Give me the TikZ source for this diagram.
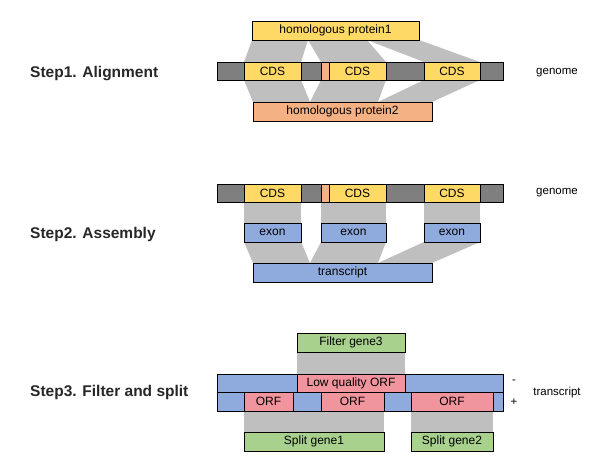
\documentclass[tikz,border=0pt]{standalone}
\usepackage{fontspec}
\setmainfont{Liberation Sans}
\usetikzlibrary{calc}
\definecolor{cdsyellow}{HTML}{FFD966}
\definecolor{protorange}{HTML}{F4B183}
\definecolor{introngrey}{HTML}{7F7F7F}
\definecolor{bandgrey}{HTML}{BFBFBF}
\definecolor{exonblue}{HTML}{8FAADC}
\definecolor{orfpink}{HTML}{F0949D}
\definecolor{genegreen}{HTML}{A9D18E}
\pgfdeclarelayer{bands}
\pgfsetlayers{bands,main}

\begin{document}
\begin{tikzpicture}[x=1pt,y=-1pt,
    box/.style={draw=black,line width=0.7pt,inner sep=0pt,outer sep=0pt,anchor=north west,
      font=\fontsize{12}{12}\selectfont},
    steplabel/.style={anchor=west,inner sep=0pt,text=black!85,
      font=\fontsize{15.5}{16}\selectfont\bfseries},
    sidelabel/.style={inner sep=0pt,font=\fontsize{11.5}{12}\selectfont},
    band/.style={fill=bandgrey}]
    \useasboundingbox (0,0) rectangle (598,470);

    % step titles
    \node[steplabel] (step1) at (30,74) {Step1. Alignment};
    \node[steplabel] (step2) at (30,234) {Step2. Assembly};
    \node[steplabel] (step3) at (30,392) {Step3. Filter and split};

    % genome bars (step 1 and step 2)
    \foreach \r/\y in {a/62,b/184} {
      \node[box,fill=introngrey,minimum width=286,minimum height=18] (genome\r) at (217,\y) {};
      \foreach \n/\xa/\xb/\c/\t in {cds1/244/301/cdsyellow/CDS,ins/321/329/protorange/{},
          cds2/329/386/cdsyellow/CDS,cds3/424/480/cdsyellow/CDS}
        \node[box,fill=\c,minimum width=\xb-\xa,minimum height=18] (\n\r) at (\xa,\y) {\t};
    }
    \node[sidelabel] (glaba) at (557,73) {genome};
    \node[sidelabel] (glabb) at (557,193) {genome};

    % step 1
    \node[box,fill=cdsyellow,minimum width=167,minimum height=19] (p1) at (252,21) {homologous protein1};
    \node[box,fill=protorange,minimum width=179,minimum height=19] (p2) at (253,102) {homologous protein2};
    \coordinate (p1m1) at ($(p1.south west)+(56,0)$);
    \coordinate (p1m2) at ($(p1.south west)+(115,0)$);
    \coordinate (p2m1) at ($(p2.north west)+(57,0)$);
    \coordinate (p2m2) at ($(p2.north west)+(125,0)$);

    % step 2
    \node[box,fill=exonblue,minimum width=57,minimum height=19] (e1) at (244,223) {exon};
    \node[box,fill=exonblue,minimum width=65,minimum height=19] (e2) at (321,223) {exon};
    \node[box,fill=exonblue,minimum width=56,minimum height=19] (e3) at (424,223) {exon};
    \node[box,fill=exonblue,minimum width=179,minimum height=19] (tr) at (253,263) {transcript};
    \coordinate (trm1) at ($(tr.north west)+(57,0)$);
    \coordinate (trm2) at ($(tr.north west)+(125,0)$);

    % step 3
    \node[box,fill=genegreen,minimum width=108,minimum height=19] (fg3) at (297,333) {Filter gene3};
    \node[box,fill=exonblue,minimum width=286,minimum height=18] (minusrow) at (217,374) {};
    \node[box,fill=orfpink,minimum width=108,minimum height=18] (lq) at (297,374) {Low quality ORF};
    \node[box,fill=exonblue,minimum width=286,minimum height=19] (plusrow) at (217,392) {};
    \node[box,fill=orfpink,minimum width=49,minimum height=19] (orf1) at (244,392) {ORF};
    \node[box,fill=orfpink,minimum width=63,minimum height=19] (orf2) at (321,392) {ORF};
    \node[box,fill=orfpink,minimum width=82,minimum height=19] (orf3) at (411,392) {ORF};
    \node[box,fill=genegreen,minimum width=140,minimum height=19] (sg1) at (244,432) {Split gene1};
    \node[box,fill=genegreen,minimum width=82,minimum height=19] (sg2) at (411,432) {Split gene2};
    \node[sidelabel] (minus) at (514,382) {-};
    \node[sidelabel] (plus) at (514,402) {+};
    \node[sidelabel] (trlab) at (557,393) {transcript};

    % grey bands behind the boxes
    \begin{pgfonlayer}{bands}
      \fill[band] (p1.south west) -- (p1m1) -- (cds1a.north east) -- (cds1a.north west) -- cycle;
      \fill[band] (p1m1) -- (p1m2) -- (cds2a.north east) -- (insa.north west) -- cycle;
      \fill[band] (p1m2) -- (p1.south east) -- (cds3a.north east) -- (cds3a.north west) -- cycle;
      \fill[band] (cds1a.south west) -- (cds1a.south east) -- (p2m1) -- (p2.north west) -- cycle;
      \fill[band] (insa.south west) -- (cds2a.south east) -- (p2m2) -- (p2m1) -- cycle;
      \fill[band] (cds3a.south west) -- (cds3a.south east) -- (p2.north east) -- (p2m2) -- cycle;
      \fill[band] (cds1b.south west) rectangle (e1.north east);
      \fill[band] (insb.south west) rectangle (e2.north east);
      \fill[band] (cds3b.south west) rectangle (e3.north east);
      \fill[band] (e1.south west) -- (e1.south east) -- (trm1) -- (tr.north west) -- cycle;
      \fill[band] (e2.south west) -- (e2.south east) -- (trm2) -- (trm1) -- cycle;
      \fill[band] (e3.south west) -- (e3.south east) -- (tr.north east) -- (trm2) -- cycle;
      \fill[band] (fg3.south west) rectangle (lq.north east);
      \fill[band] (orf1.south west) rectangle (sg1.north east);
      \fill[band] (orf3.south west) rectangle (sg2.north east);
    \end{pgfonlayer}
\end{tikzpicture}
\end{document}
